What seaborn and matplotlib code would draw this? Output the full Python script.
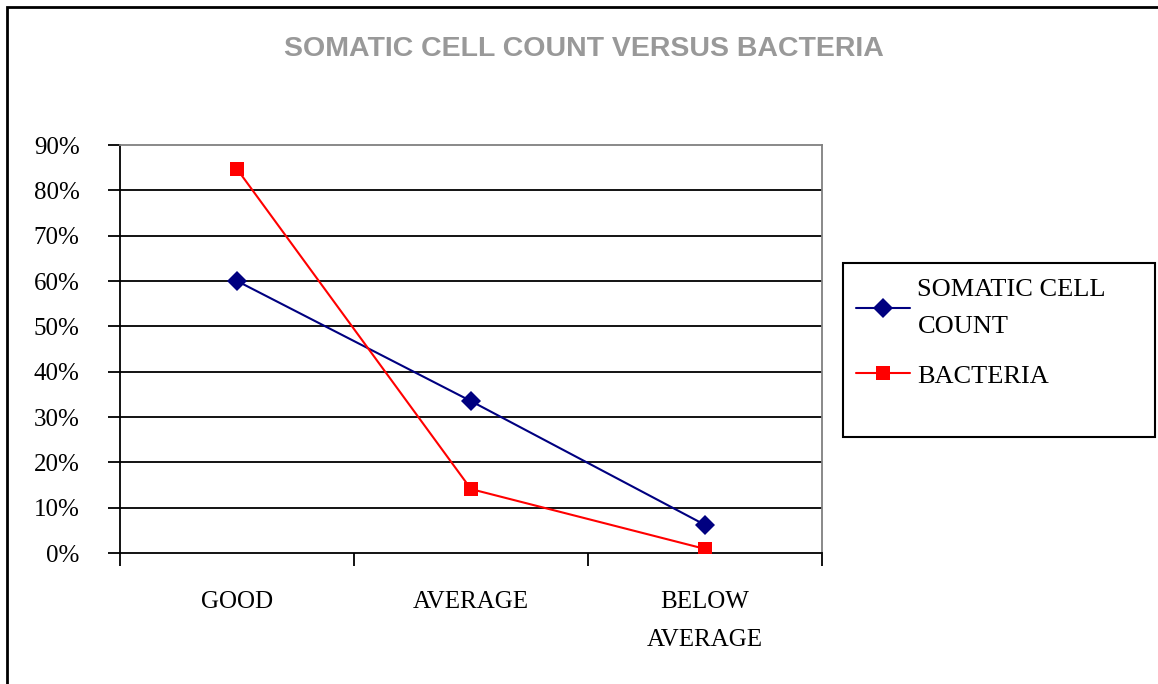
"""
Somatic cell count versus bacteria line chart (Excel-style look).
"""

import pandas as pd
import matplotlib.pyplot as plt
import seaborn as sns
from matplotlib.patches import Rectangle

# Data
categories = ['GOOD', 'AVERAGE', 'BELOW\nAVERAGE']
somatic_cell_count = [0.60, 0.335, 0.062]
bacteria = [0.847, 0.141, 0.009]
series_names = ['SOMATIC CELL\nCOUNT', 'BACTERIA']
y_ticks = [0, 0.1, 0.2, 0.3, 0.4, 0.5, 0.6, 0.7, 0.8, 0.9]

df = pd.DataFrame({
    'pos': list(range(len(categories))) * 2,
    'value': somatic_cell_count + bacteria,
    'series': [series_names[0]] * 3 + [series_names[1]] * 3,
})

W, H = 1158, 684

sns.set_style("white")
plt.rcParams['font.family'] = ['Liberation Serif', 'DejaVu Serif']
plt.rcParams['text.color'] = 'black'
plt.rcParams['xtick.color'] = 'black'
plt.rcParams['ytick.color'] = 'black'

fig = plt.figure(figsize=(W / 100, H / 100), dpi=100)
ax = fig.add_axes([120 / W, 1 - 553 / H, (822 - 120) / W, (553 - 145) / H])

# horizontal gridlines
for t in y_ticks[1:-1]:
    ax.axhline(t, color='black', lw=1.3, zorder=1)

sns.lineplot(data=df, x='pos', y='value', hue='series', style='series',
             palette={series_names[0]: '#000080', series_names[1]: '#ff0000'},
             markers={series_names[0]: 'D', series_names[1]: 's'},
             dashes=False, markersize=10.5, lw=1.5, markeredgewidth=0,
             ax=ax, zorder=3)

ax.set_xlim(-0.5, len(categories) - 0.5)
ax.set_ylim(0, 0.9)
ax.set_yticks(y_ticks)
ax.set_yticklabels([f'{int(round(t * 100))}%' for t in y_ticks], fontsize=18)
ax.set_xticks([-0.5, 0.5, 1.5, 2.5])
ax.set_xticklabels([])
ax.set_xticks(range(len(categories)), minor=True)
ax.set_xticklabels(categories, minor=True, fontsize=18, linespacing=1.95)
ax.tick_params(axis='x', which='minor', bottom=False, length=0, pad=27)
ax.tick_params(axis='x', which='major', bottom=True, length=9, width=1.3, direction='out')
ax.tick_params(axis='y', left=True, length=9, width=1.3, direction='out', pad=20)
ax.set_xlabel('')
ax.set_ylabel('')

for side in ['left', 'bottom']:
    ax.spines[side].set_color('black')
    ax.spines[side].set_linewidth(1.3)
for side in ['top', 'right']:
    ax.spines[side].set_color('#808080')
    ax.spines[side].set_linewidth(1.3)

# legend (box drawn separately to match the Excel frame)
handles, labels = ax.get_legend_handles_labels()
ax.get_legend().remove()
leg = fig.legend(handles, labels, loc='upper left',
                 bbox_to_anchor=(843 / W, 1 - 266 / H),
                 frameon=False, fontsize=19, handlelength=2.05,
                 labelspacing=1.0, borderpad=0.0, handletextpad=0.27)
for txt in leg.get_texts():
    txt.set_linespacing(1.85)
fig.patches.append(Rectangle((843 / W, 1 - 437 / H), (1155 - 843) / W, (437 - 263) / H,
                             transform=fig.transFigure, fill=False,
                             edgecolor='black', lw=1.5))

fig.suptitle('SOMATIC CELL COUNT VERSUS BACTERIA', x=584 / W, y=1 - 49 / H,
             va='center', fontsize=20.5, fontweight='bold', color='#999999',
             family='Liberation Sans')

# outer chart border (right and bottom edges fall outside the image)
fig.patches.append(Rectangle((7 / W, -0.05), 1.1, 1.05 - 7 / H,
                             transform=fig.transFigure, fill=False,
                             edgecolor='black', lw=2))

fig.savefig('out.png', dpi=100)
